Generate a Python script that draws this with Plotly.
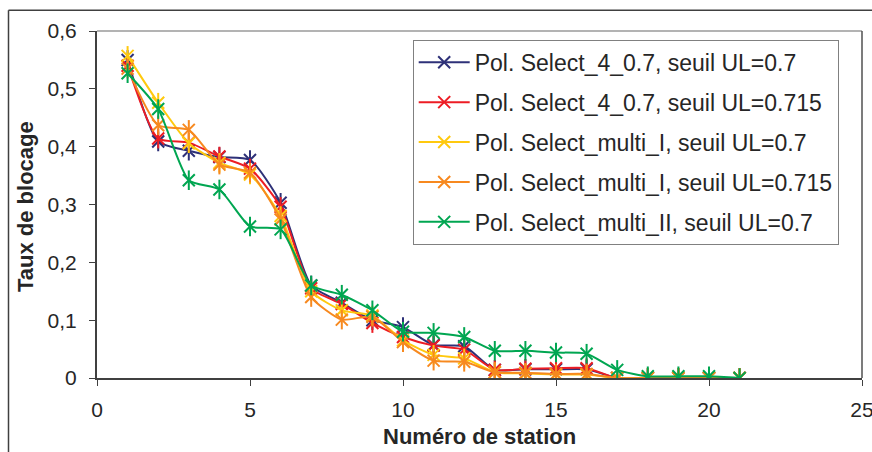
import plotly.graph_objects as go

stations = list(range(1, 22))

names = [
    "Pol. Select_4_0.7, seuil UL=0.7",
    "Pol. Select_4_0.7, seuil UL=0.715",
    "Pol. Select_multi_I, seuil UL=0.7",
    "Pol. Select_multi_I, seuil UL=0.715",
    "Pol. Select_multi_II, seuil UL=0.7",
]
colors = ["#2E3178", "#ED1C24", "#FFC90E", "#F7891F", "#00A651"]

s4_ul070 = [0.550, 0.409, 0.393, 0.382, 0.377, 0.303, 0.160, 0.130, 0.100, 0.088, 0.057,
            0.055, 0.014, 0.015, 0.015, 0.015, 0.000, 0.000, 0.000, 0.000, 0.000]
s4_ul0715 = [0.540, 0.414, 0.407, 0.383, 0.362, 0.296, 0.155, 0.128, 0.095, 0.071, 0.056,
             0.049, 0.014, 0.016, 0.017, 0.017, 0.000, 0.000, 0.000, 0.000, 0.000]
mI_ul070 = [0.557, 0.476, 0.406, 0.372, 0.352, 0.280, 0.150, 0.117, 0.108, 0.065, 0.040,
            0.034, 0.010, 0.008, 0.006, 0.006, 0.000, 0.000, 0.000, 0.000, 0.000]
mI_ul0715 = [0.535, 0.437, 0.429, 0.369, 0.355, 0.274, 0.140, 0.101, 0.106, 0.062, 0.030,
             0.028, 0.010, 0.009, 0.007, 0.007, 0.000, 0.000, 0.000, 0.000, 0.000]
mII_ul070 = [0.527, 0.465, 0.342, 0.326, 0.262, 0.257, 0.160, 0.144, 0.117, 0.080, 0.078,
             0.071, 0.047, 0.047, 0.044, 0.042, 0.014, 0.003, 0.003, 0.003, 0.000]

series = [s4_ul070, s4_ul0715, mI_ul070, mI_ul0715, mII_ul070]

x_ticks = [0, 5, 10, 15, 20, 25]
y_ticks = [0, 0.1, 0.2, 0.3, 0.4, 0.5, 0.6]
x_title = "Numéro de station"
y_title = "Taux de blocage"

fig = go.Figure()
for i, (name, col, vals) in enumerate(zip(names, colors, series)):
    grp = f"g{i}"
    fig.add_trace(go.Scatter(
        x=stations, y=vals, name=name, legendgroup=grp,
        mode="lines+markers",
        line=dict(color=col, width=2, shape="spline", smoothing=0.6),
        marker=dict(symbol="x-thin-open", size=12, color=col,
                    line=dict(color=col, width=2)),
    ))
    fig.add_trace(go.Scatter(
        x=stations, y=vals, name=name, legendgroup=grp, showlegend=False,
        mode="markers", hoverinfo="skip",
        marker=dict(symbol="line-ns-open", size=14, color=col,
                    line=dict(color=col, width=2)),
    ))

W, H = 872, 452
L, R, T, B = 97, 862, 30.7, 378.3
pw, ph = R - L, B - T

def px_x(px):
    return (px - L) / pw

def px_y(py):
    return (B - py) / ph

font_fam = "Liberation Sans, Arial, sans-serif"

fig.update_layout(
    width=W, height=H,
    margin=dict(l=L, r=W - R, t=T, b=H - B, pad=0),
    paper_bgcolor="white", plot_bgcolor="white",
    separators=", ",
    font=dict(family=font_fam, color="#262626", size=21),
    showlegend=True,
    legend=dict(
        x=px_x(412.7), y=px_y(39.5), xanchor="left", yanchor="top",
        bgcolor="white", bordercolor="#808080", borderwidth=1,
        font=dict(size=23, family=font_fam, color="#262626"),
        traceorder="grouped", tracegroupgap=7, itemwidth=51,
    ),
    xaxis=dict(
        range=[0, 25], tickvals=x_ticks, showgrid=False, zeroline=False,
        automargin=False, ticklabeloverflow="allow",
        showline=True, linecolor="#404040", linewidth=2,
        ticks="outside", ticklen=6, tickcolor="#404040", tickwidth=1,
        ticklabelstandoff=6,
        tickfont=dict(size=21),
    ),
    yaxis=dict(
        range=[0, 0.6], tickvals=y_ticks, showgrid=False, zeroline=False,
        automargin=False,
        showline=True, linecolor="#404040", linewidth=2,
        ticks="outside", ticklen=6, tickcolor="#404040", tickwidth=1,
        ticklabelstandoff=8,
        tickfont=dict(size=21),
    ),
    annotations=[
        dict(text=f"<b>{x_title}</b>", xref="paper", yref="paper",
             x=px_x(479), y=px_y(437), xanchor="center", yanchor="middle",
             showarrow=False, font=dict(size=22, color="#262626")),
        dict(text=f"<b>{y_title}</b>", xref="paper", yref="paper",
             x=px_x(26), y=px_y(207), xanchor="center", yanchor="middle",
             textangle=-90, showarrow=False, font=dict(size=22, color="#262626")),
    ],
    shapes=[
        # plot area top and right borders
        dict(type="line", xref="paper", yref="paper", x0=0, x1=1, y0=1, y1=1,
             line=dict(color="#9a9a9a", width=1.5), layer="below"),
        dict(type="line", xref="paper", yref="paper", x0=1, x1=1, y0=0, y1=1,
             line=dict(color="#505050", width=1.5), layer="below"),
        # outer chart frame (top and left)
        dict(type="line", xref="paper", yref="paper", x0=px_x(8.5), x1=px_x(900),
             y0=px_y(10), y1=px_y(10), line=dict(color="#404040", width=1.5)),
        dict(type="line", xref="paper", yref="paper", x0=px_x(8.5), x1=px_x(8.5),
             y0=px_y(10), y1=px_y(470), line=dict(color="#404040", width=1.5)),
    ],
)

fig.write_html(
    "out.html",
    config={"displayModeBar": False},
    post_script="document.body.style.margin='0';document.body.style.overflow='hidden';",
)
